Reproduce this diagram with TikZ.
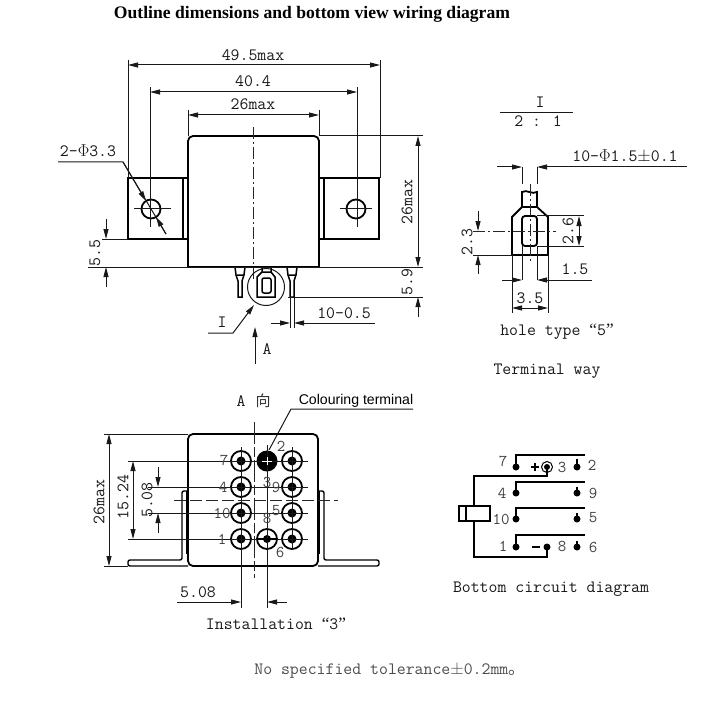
\documentclass[tikz,border=0pt]{standalone}
\usepackage{fontspec}
\newfontfamily\cjk{Noto Sans CJK SC}
\newfontfamily\titlefont{Liberation Serif}
\newfontfamily\armfont{Liberation Sans}
\usetikzlibrary{arrows.meta}
\tikzset{
  >={Stealth[length=10pt,width=5pt,inset=0pt]},
  part/.style={line width=1.8pt,black},
  thin line/.style={line width=1pt,black!90},
  axis/.style={line width=1pt,black!85,dash pattern=on 12pt off 3pt on 2pt off 3pt},
  lbl/.style={font=\fontsize{17.3}{17}\selectfont\ttfamily,inner sep=0pt,black!90},
  num/.style={font=\fontsize{16.5}{16}\selectfont\ttfamily,inner sep=0pt,black!75},
  dot/.style={fill=black,draw=none},
}
\begin{document}
\begin{tikzpicture}[x=1pt,y=-1pt]
  \useasboundingbox (0,0) rectangle (701,719);
  \node (title) [inner sep=0pt,font=\fontsize{17.6}{17}\selectfont\titlefont\bfseries] at (312,14) {Outline dimensions and bottom view wiring diagram};

  % front view
  \draw[part] (188,267) [rounded corners=5pt] -- (188,136) -- (319,136) [sharp corners] -- (319,267) -- cycle;
  \draw[part] (188,178) -- (128,178) -- (128,239) -- (188,239) (183,178) -- (183,239);
  \draw[part] (319,178) -- (379,178) -- (379,239) -- (319,239) (324,178) -- (324,239);
  \draw[part] (151,209) circle (9.5pt) (356,209) circle (9.5pt);
  \draw[axis] (253,127) -- (253,281);
  \draw[thin line] (134,209) -- (171,209) (340,209) -- (372,209);
  \foreach \px in {240,292}
    \draw[line width=1.5pt] (\px-5,267) -- (\px-4,275) -- (\px-2,281) -- (\px-2,297) -- (\px+2,297) -- (\px+2,281) -- (\px+4,275) -- (\px+5,267) (\px-3,275) -- (\px+3,275);
  \draw[thin line] (266,287) circle (18.5pt);
  \draw[line width=1.5pt] (262,267) -- (262,272) (271,267) -- (271,272) (262,272) -- (271,272) -- (275,277) -- (275,297) -- (257,297) -- (257,277) -- (262,272);
  \draw[line width=1.5pt,rounded corners=2pt] (262,278) rectangle (271,293);

  % dimensions of the front view
  \draw[thin line] (128,60) -- (128,178) (380,60) -- (380,178);
  \draw[thin line,<->] (128,65) -- (380,65);
  \node (w49) [lbl] at (253,55) {49.5max};
  \draw[thin line] (150,87) -- (150,227) (357,87) -- (357,227);
  \draw[thin line,<->] (150,92) -- (357,92);
  \node (w40) [lbl] at (253,81) {40.4};
  \draw[thin line] (188,110) -- (188,136) (319,110) -- (319,136);
  \draw[thin line,<->] (188,115) -- (319,115);
  \node (w26) [lbl] at (253,104) {26max};
  \draw[thin line] (319,136) -- (423,136) (88,267) -- (423,267) (288,297) -- (423,297) (102,239) -- (128,239);
  \draw[thin line,<->] (418,136) -- (418,267);
  \node (h26) [lbl,rotate=90] at (407,202) {26max};
  \node (h59) [lbl,rotate=90] at (407,282) {5.9};
  \draw[thin line,->] (418,317) -- (418,297);
  \draw[thin line,->] (106,219) -- (106,239);
  \draw[thin line,->] (106,287) -- (106,267);
  \node (h55) [lbl,rotate=90] at (95,253) {5.5};
  \node (hole) [lbl] at (88,151) {2-$\Phi$3.3};
  \draw[thin line] (58,162) -- (123,162) -- (166,234);
  \draw[thin line,->] (123,162) -- (146,201);
  \draw[thin line,->] (166,234) -- (156,217);
  \draw[thin line] (290,297) -- (290,328) (294,297) -- (294,328);
  \draw[thin line,->] (271,323) -- (290,323);
  \draw[thin line,->] (375,323) -- (294,323);
  \node (pinw) [lbl] at (344,313) {10-0.5};
  \draw[thin line,->] (208,333) -- (233,333) -- (254,305);
  \node (det) [lbl] at (222,322) {I};
  \draw[thin line,->] (255,364) -- (255,327);
  \node (viewa) [lbl] at (267,349) {A};

  % detail of the terminal
  \node (deti) [lbl] at (540,102) {I};
  \draw[thin line] (500,113) -- (573,113);
  \node (scale) [lbl] at (538,121) {2 : 1};
  \node (termd) [lbl] at (625,156) {10-$\Phi$1.5$\pm$0.1};
  \draw[thin line,->] (497,167) -- (522,167);
  \draw[thin line,->] (687,167) -- (537,167);
  \draw[thin line] (522,167) -- (522,184) (537,167) -- (537,184);
  \draw[part] (522,207) -- (522,192) .. controls (527,189) and (532,195) .. (537,192) -- (537,207);
  \draw[part] (512,255) -- (512,217) -- (522,207) -- (537,207) -- (548,217) -- (548,255) -- cycle;
  \draw[part,rounded corners=3pt] (522,216) rectangle (537,246);
  \draw[axis] (530,184) -- (530,262) (473,231) -- (556,231);
  \draw[thin line] (537,216) -- (584,216) (537,246) -- (584,246);
  \draw[thin line,<->] (579,216) -- (579,246);
  \node (d26) [lbl,rotate=90] at (568,231) {2.6};
  \draw[thin line,->] (478,211) -- (478,231);
  \draw[thin line,->] (478,274) -- (478,255);
  \draw[thin line] (473,255) -- (512,255);
  \node (d23) [lbl,rotate=90] at (467,242) {2.3};
  \draw[thin line] (512,255) -- (512,313) (548,255) -- (548,313) (522,246) -- (522,280) (537,246) -- (537,280);
  \draw[thin line,->] (502,280) -- (522,280);
  \draw[thin line,->] (592,280) -- (537,280);
  \node (d15) [lbl] at (575,269) {1.5};
  \draw[thin line,<->] (512,308) -- (548,308);
  \node (d35) [lbl] at (530,298) {3.5};
  \node (holetype) [lbl] at (557,332) {hole type {\titlefont “}5{\titlefont ”}};
  \node (termway) [lbl] at (547,371) {Terminal way};

  % bottom view
  \node (viewa2) [lbl] at (241,401) {A};
  \node (xiang) [inner sep=0pt,black!80,font=\fontsize{15}{15}\selectfont\cjk] at (263,401) {向};
  \node (colour) [inner sep=0pt,font=\fontsize{14.1}{14}\selectfont\armfont] at (356,401) {Colouring terminal};
  \draw[thin line] (413,409) -- (291,409) -- (269,450);
  \draw[part,rounded corners=5pt] (188,566) -- (188,434) -- (318,434) -- (318,566) -- cycle;
  \draw[line width=1.4pt,rounded corners=2pt] (187,491) -- (182,491) -- (182,560) -- (128,560) -- (128,566) -- (188,566);
  \draw[line width=1.4pt,rounded corners=2pt] (319,491) -- (324,491) -- (324,560) -- (379,560) -- (379,566) -- (318,566);
  \draw[line width=1.4pt] (187,491) -- (187,554) (319,491) -- (319,554);
  \foreach \hx in {241,267,292}
    \foreach \hy in {461,487,513,539} {
      \ifnum\hy=461 \ifnum\hx=267 \else \draw[part] (\hx,\hy) circle (10pt); \fi \else
      \ifnum\hx=267 \ifnum\hy=539 \draw[part] (\hx,\hy) circle (10pt); \fi \else \draw[part] (\hx,\hy) circle (10pt); \fi \fi
      \ifnum\hx=267 \ifnum\hy=461 \fill[dot] (\hx,\hy) circle (10.5pt); \fi \ifnum\hy=539 \fill[dot] (\hx,\hy) circle (4pt); \fi \else \fill[dot] (\hx,\hy) circle (4.5pt); \fi
    }
  \draw[thin line] (241,447) -- (241,608) (267,445) -- (267,608) (292,447) -- (292,550);
  \draw[thin line] (128,461) -- (308,461) (148,487) -- (308,487) (148,513) -- (308,513) (128,539) -- (308,539);
  \draw[line width=1.8pt] (257,539) -- (277,539);
  \draw[white,line width=0.5pt] (262,461) -- (272,461) (267,457) -- (267,465);
  \draw[axis,dash pattern=on 12pt off 4pt on 12pt off 4pt] (174,500) -- (338,500);
  \draw[axis,dash pattern=on 22pt off 3pt on 10pt off 3pt] (254,422) -- (254,578);
  \node (t2)  [num] at (281,446) {2};
  \node (t7)  [num] at (224,460) {7};
  \node (t4)  [num] at (223,487) {4};
  \node (t10) [num] at (222,513) {10};
  \node (t1)  [num] at (222,539) {1};
  \node (t3)  [num] at (267,482) {3};
  \node (t9)  [num] at (276,487) {9};
  \node (t5)  [num] at (276,511) {5};
  \node (t8)  [num] at (267,518) {8};
  \node (t6)  [num] at (280,552) {6};

  % dimensions of the bottom view
  \draw[thin line] (104,434) -- (188,434) (104,566) -- (128,566);
  \draw[thin line,<->] (109,434) -- (109,566);
  \node (b26) [lbl,rotate=90] at (99,502) {26max};
  \draw[thin line,<->] (133,461) -- (133,539);
  \node (b15) [lbl,rotate=90] at (123,497) {15.24};
  \draw[thin line,->] (158,467) -- (158,487);
  \draw[thin line,->] (158,533) -- (158,513);
  \node (b5) [lbl,rotate=90] at (147,500) {5.08};
  \draw[thin line,->] (177,602) -- (241,602);
  \draw[thin line,->] (287,602) -- (267,602);
  \node (b5h) [lbl] at (198,592) {5.08};
  \node (install) [lbl] at (276,624) {Installation {\titlefont “}3{\titlefont ”}};

  % circuit
  \foreach \ry in {455,482,508,535}
    \draw[line width=1.5pt] (516,\ry+11) -- (516,\ry) -- (585,\ry);
  \foreach \ry/\cy in {467/459,493/487,519/513,547/541} {
    \fill[dot] (516,\ry) circle (3.5pt);
    \fill[dot] (577,\ry) circle (3.5pt);
    \draw[line width=1.5pt] (577,\ry) -- (577,\cy);
  }
  \draw[line width=1pt] (547,467) circle (5.5pt);
  \fill[dot] (547,467) circle (3pt);
  \fill[dot] (547,547) circle (3.5pt);
  \draw[line width=1.5pt] (547,467) -- (547,476) -- (474,476) -- (474,506);
  \draw[line width=1.5pt] (474,521) -- (474,557) -- (547,557) -- (547,547);
  \draw[line width=1.6pt] (459,506) rectangle (490,521) (466,506) -- (466,521);
  \draw[line width=1.5pt] (531,467) -- (539,467) (535,463) -- (535,471) (532,547) -- (540,547);
  \node (c7)  [num] at (503,461) {7};
  \node (c3)  [num] at (562,467) {3};
  \node (c2)  [num] at (592,465) {2};
  \node (c4)  [num] at (502,493) {4};
  \node (c9)  [num] at (593,493) {9};
  \node (c10) [num] at (501,519) {10};
  \node (c5)  [num] at (593,518) {5};
  \node (c1)  [num] at (503,546) {1};
  \node (c8)  [num] at (562,546) {8};
  \node (c6)  [num] at (593,547) {6};
  \node (bcd) [lbl] at (551,589) {Bottom circuit diagram};
  \node (note) [lbl,black!70] at (390,671) {No specified tolerance$\pm$0.2mm{\cjk 。}};
\end{tikzpicture}
\end{document}
